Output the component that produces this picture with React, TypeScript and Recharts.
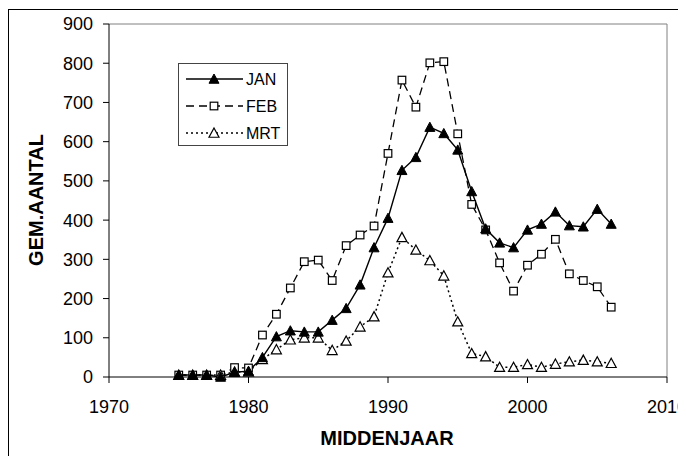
import React from 'react';
import { LineChart, Line, XAxis, YAxis, ReferenceLine, Legend } from 'recharts';

const years = [1975, 1976, 1977, 1978, 1979, 1980, 1981, 1982, 1983, 1984, 1985, 1986, 1987, 1988, 1989, 1990, 1991, 1992, 1993, 1994, 1995, 1996, 1997, 1998, 1999, 2000, 2001, 2002, 2003, 2004, 2005, 2006];
const jan = [5, 5, 5, 0, 12, 15, 50, 103, 118, 115, 115, 145, 175, 235, 330, 405, 527, 560, 637, 621, 579, 473, 378, 342, 330, 375, 390, 421, 386, 383, 428, 390];
const feb = [5, 5, 5, 5, 24, 23, 107, 160, 227, 294, 298, 246, 335, 362, 385, 570, 757, 688, 801, 804, 620, 440, 375, 291, 219, 285, 313, 351, 263, 246, 230, 178];
const mrt = [5, 5, 5, 5, 13, 13, 45, 70, 95, 100, 100, 68, 92, 128, 154, 266, 356, 324, 297, 258, 141, 60, 52, 25, 25, 32, 25, 33, 39, 43, 39, 35];
const xTicks = [1970, 1980, 1990, 2000, 2010];
const yTicks = [0, 100, 200, 300, 400, 500, 600, 700, 800, 900];
const seriesNames = ['JAN', 'FEB', 'MRT'];

const data = years.map((y, i) => ({ year: y, JAN: jan[i], FEB: feb[i], MRT: mrt[i] }));

const FONT = '"Liberation Sans", Arial, sans-serif';

const triPath = (cx: number, cy: number, s: number) =>
  `M${cx},${cy - s} L${cx + s},${cy + s * 0.85} L${cx - s},${cy + s * 0.85} Z`;

const FilledTri = (p: any) => {
  if (p.cx == null || p.cy == null) return null;
  return <path d={triPath(p.cx, p.cy, 5)} fill="#000" stroke="#000" strokeWidth={1} />;
};
const OpenTri = (p: any) => {
  if (p.cx == null || p.cy == null) return null;
  return <path d={triPath(p.cx, p.cy, 5)} fill="#fff" stroke="#000" strokeWidth={1.2} />;
};
const OpenSq = (p: any) => {
  if (p.cx == null || p.cy == null) return null;
  return <rect x={p.cx - 3.8} y={p.cy - 3.8} width={7.6} height={7.6} fill="#fff" stroke="#000" strokeWidth={1.2} />;
};

const LegendBox = () => {
  const rows = [
    { name: seriesNames[0], dash: undefined as string | undefined, marker: 'ftri' },
    { name: seriesNames[1], dash: '8 5', marker: 'sq' },
    { name: seriesNames[2], dash: '2 3', marker: 'otri' },
  ];
  return (
    <div style={{ width: 110, height: 83, border: '1px solid #444', boxSizing: 'border-box', background: '#fff' }}>
      <svg width={108} height={81}>
        {rows.map((r, i) => {
          const y = 15 + i * 27;
          return (
            <g key={r.name}>
              <line x1={7} x2={64} y1={y} y2={y} stroke="#000" strokeWidth={1.3} strokeDasharray={r.dash} />
              {r.marker === 'ftri' && <path d={triPath(35, y, 5)} fill="#000" stroke="#000" />}
              {r.marker === 'sq' && <rect x={31.2} y={y - 3.8} width={7.6} height={7.6} fill="#fff" stroke="#000" strokeWidth={1.2} />}
              {r.marker === 'otri' && <path d={triPath(35, y, 5)} fill="#fff" stroke="#000" strokeWidth={1.2} />}
              <text x={67} y={y} dominantBaseline="central" fontFamily={FONT} fontSize={16} fill="#000">{r.name}</text>
            </g>
          );
        })}
      </svg>
    </div>
  );
};

export default function App() {
  return (
    <div style={{ position: 'relative', width: 678, height: 448 }}>
      <div
        style={{
          position: 'absolute', left: 0, top: 1, width: 678, height: 447,
          borderTop: '1px solid #000', borderLeft: '1px solid #000', boxSizing: 'border-box', pointerEvents: 'none',
        }}
      />
      <LineChart width={678} height={448} data={data} margin={{ top: 16, right: 19, bottom: 19, left: 41 }}>
        <XAxis
          dataKey="year"
          type="number"
          domain={[1970, 2010]}
          ticks={xTicks}
          interval={0}
          height={60}
          tickSize={6}
          tickMargin={17}
          axisLine={{ stroke: '#000', strokeWidth: 1 }}
          tickLine={{ stroke: '#000' }}
          tick={{ fill: '#000', fontSize: 18, fontFamily: FONT }}
          label={{
            content: () => (
              <text x={379} y={430} textAnchor="middle" dominantBaseline="central" fontFamily={FONT} fontSize={20} fontWeight="bold" fill="#000">
                MIDDENJAAR
              </text>
            ),
          }}
        />
        <YAxis
          type="number"
          domain={[0, 900]}
          ticks={yTicks}
          interval={0}
          width={60}
          tickSize={6}
          tickMargin={10}
          axisLine={{ stroke: '#000', strokeWidth: 1 }}
          tickLine={{ stroke: '#000' }}
          tick={{ fill: '#000', fontSize: 18, fontFamily: FONT }}
          label={{
            content: () => (
              <text x={28} y={192} transform="rotate(-90, 28, 192)" textAnchor="middle" dominantBaseline="central" fontFamily={FONT} fontSize={20} fontWeight="bold" fill="#000">
                GEM.AANTAL
              </text>
            ),
          }}
        />
        <ReferenceLine y={900} stroke="#808080" strokeWidth={1} />
        <ReferenceLine x={2010} stroke="#808080" strokeWidth={1} />
        <Legend
          layout="vertical"
          align="center"
          verticalAlign="middle"
          content={() => <LegendBox />}
          wrapperStyle={{ left: 170, top: 55, width: 110 }}
        />
        <Line dataKey="FEB" name={seriesNames[1]} stroke="#000" strokeWidth={1.3} strokeDasharray="8 5" isAnimationActive={false}
          dot={(p: any) => <OpenSq key={`f${p.index}`} {...p} />} activeDot={false} />
        <Line dataKey="MRT" name={seriesNames[2]} stroke="#000" strokeWidth={1.5} strokeDasharray="2 3" isAnimationActive={false}
          dot={(p: any) => <OpenTri key={`m${p.index}`} {...p} />} activeDot={false} />
        <Line dataKey="JAN" name={seriesNames[0]} stroke="#000" strokeWidth={1.4} isAnimationActive={false}
          dot={(p: any) => <FilledTri key={`j${p.index}`} {...p} />} activeDot={false} />
      </LineChart>
    </div>
  );
}
